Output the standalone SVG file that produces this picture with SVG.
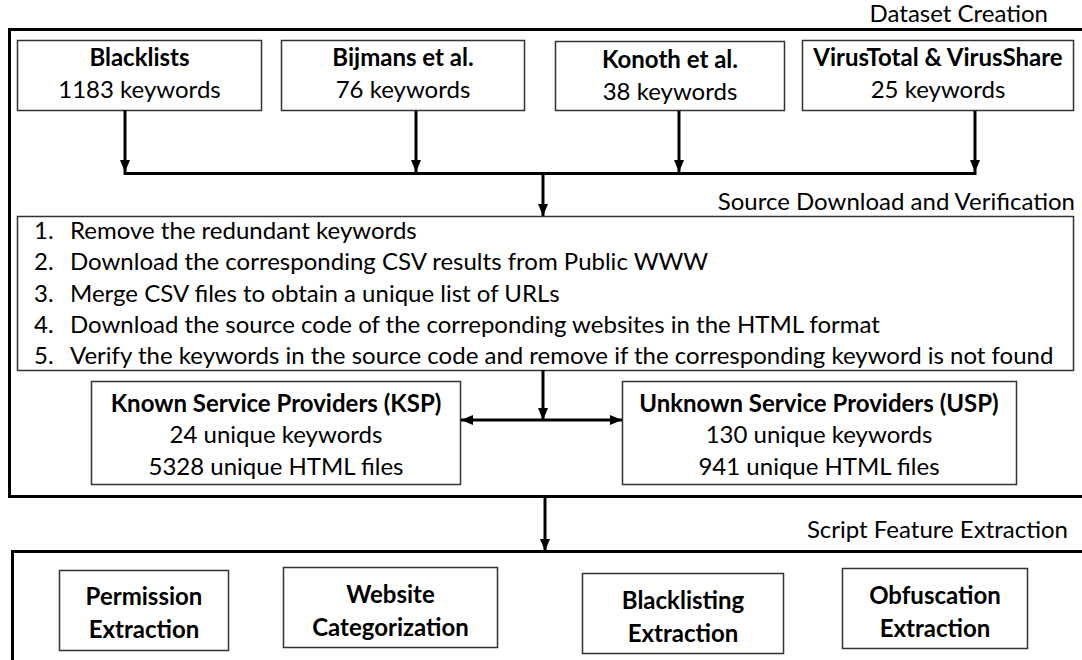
<svg xmlns="http://www.w3.org/2000/svg" width="1082" height="660" viewBox="0 0 1082 660">
<defs>
<style>
text{font-family:Lato,"Liberation Sans",sans-serif;font-size:24px;fill:#000}
.b{font-weight:bold}
.m{text-anchor:middle}
.e{text-anchor:end}
.box{fill:#fff;stroke:#333;stroke-width:1.5}
.outer{fill:none;stroke:#000;stroke-width:3}
.ln{fill:none;stroke:#000;stroke-width:3}
</style>
<marker id="ah" viewBox="0 0 12 10" refX="12" refY="5" markerWidth="12" markerHeight="10" markerUnits="userSpaceOnUse" orient="auto-start-reverse">
<path d="M0,0 L12,5 L0,10 z" fill="#000"/>
</marker>
</defs>
<rect width="1082" height="660" fill="#fff"/>
<g id="dataset-creation">
<rect class="outer" x="9.5" y="29.5" width="1080" height="467"/>
<text class="e" x="1048" y="22">Dataset Creation</text>
</g>
<g id="script-feature-extraction">
<rect class="outer" x="12.5" y="551.5" width="1080" height="200"/>
<text class="e" x="1068" y="538">Script Feature Extraction</text>
</g>
<g id="blacklists">
<rect class="box" x="17.5" y="40.5" width="244" height="70"/>
<text class="m b" x="139.5" y="66">Blacklists</text>
<text class="m" x="139.5" y="98">1183 keywords</text>
</g>
<g id="bijmans">
<rect class="box" x="281.5" y="40.5" width="243" height="70"/>
<text class="m b" x="403" y="66">Bijmans et al.</text>
<text class="m" x="403" y="98">76 keywords</text>
</g>
<g id="konoth">
<rect class="box" x="555.5" y="41.5" width="229" height="69"/>
<text class="m b" x="670" y="68">Konoth et al.</text>
<text class="m" x="670" y="100">38 keywords</text>
</g>
<g id="virustotal">
<rect class="box" x="802.5" y="40.5" width="271" height="70"/>
<text class="m b" x="938" y="66">VirusTotal &amp; VirusShare</text>
<text class="m" x="938" y="98">25 keywords</text>
</g>
<g id="source-download">
<rect class="box" x="17.5" y="216.5" width="1056" height="154"/>
<text class="e" x="1075" y="210">Source Download and Verification</text>
<text x="34" y="239">1.</text><text x="70" y="239">Remove the redundant keywords</text>
<text x="34" y="270">2.</text><text x="70" y="270">Download the corresponding CSV results from Public WWW</text>
<text x="34" y="302">3.</text><text x="70" y="302">Merge CSV files to obtain a unique list of URLs</text>
<text x="34" y="333">4.</text><text x="70" y="333">Download the source code of the correponding websites in the HTML format</text>
<text x="34" y="364">5.</text><text x="70" y="364">Verify the keywords in the source code and remove if the corresponding keyword is not found</text>
</g>
<g id="ksp">
<rect class="box" x="91.5" y="381.5" width="369" height="103"/>
<text class="m b" x="276" y="412">Known Service Providers (KSP)</text>
<text class="m" x="276" y="443">24 unique keywords</text>
<text class="m" x="276" y="475">5328 unique HTML files</text>
</g>
<g id="usp">
<rect class="box" x="622.5" y="381.5" width="394" height="103"/>
<text class="m b" x="819" y="412">Unknown Service Providers (USP)</text>
<text class="m" x="819" y="443">130 unique keywords</text>
<text class="m" x="819" y="475">941 unique HTML files</text>
</g>
<g id="permission">
<rect class="box" x="59.5" y="570.5" width="169" height="80"/>
<text class="m b" x="144" y="605">Permission</text>
<text class="m b" x="144" y="638">Extraction</text>
</g>
<g id="website">
<rect class="box" x="283.5" y="567.5" width="214" height="80"/>
<text class="m b" x="390.5" y="603">Website</text>
<text class="m b" x="390.5" y="636">Categorization</text>
</g>
<g id="blacklisting">
<rect class="box" x="582.5" y="573.5" width="201" height="80"/>
<text class="m b" x="683" y="609">Blacklisting</text>
<text class="m b" x="683" y="642">Extraction</text>
</g>
<g id="obfuscation">
<rect class="box" x="842.5" y="568.5" width="185" height="80"/>
<text class="m b" x="935" y="604">Obfuscation</text>
<text class="m b" x="935" y="637">Extraction</text>
</g>
<g id="connectors">
<path class="ln" d="M125,110 V172" marker-end="url(#ah)"/>
<path class="ln" d="M416,111 V172" marker-end="url(#ah)"/>
<path class="ln" d="M679,111 V172" marker-end="url(#ah)"/>
<path class="ln" d="M975,111 V172" marker-end="url(#ah)"/>
<path class="ln" d="M123.5,173.5 H976.5"/>
<path class="ln" d="M543,173 V216" marker-end="url(#ah)"/>
<path class="ln" d="M543,370 V420" marker-end="url(#ah)"/>
<path class="ln" d="M461,420 H622" marker-start="url(#ah)" marker-end="url(#ah)"/>
<path class="ln" d="M545,497 V551" marker-end="url(#ah)"/>
</g>
</svg>
